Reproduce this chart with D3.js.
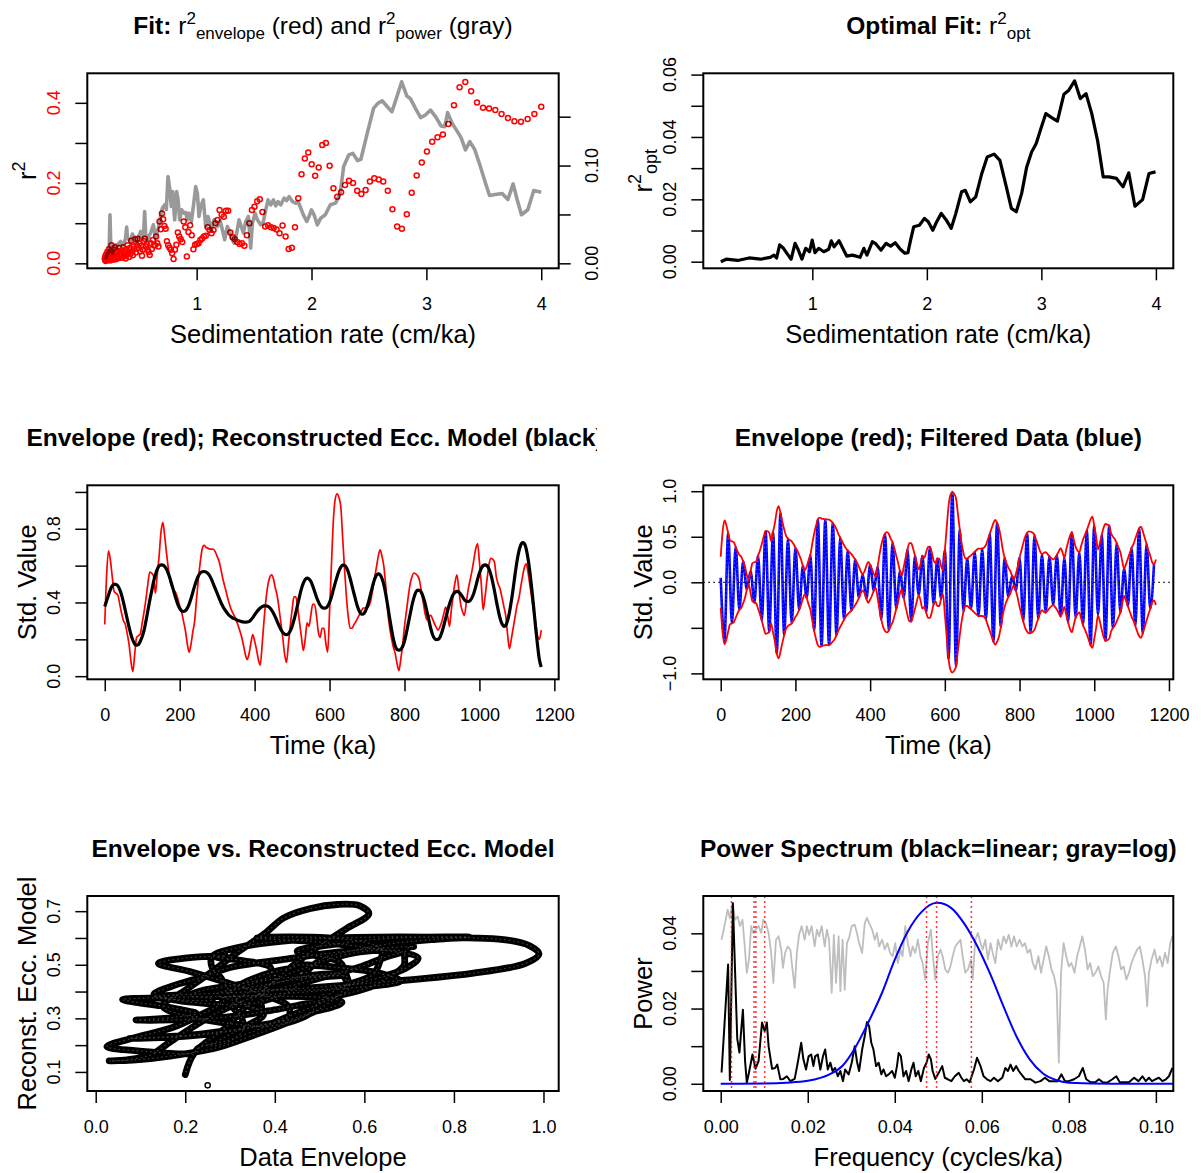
<!DOCTYPE html>
<html>
<head>
<meta charset="utf-8">
<script src="https://cdn.jsdelivr.net/npm/d3@7"></script>
<style>
  body { margin: 0; background: #fff; }
  text { font-family: "Liberation Sans", Arial, Helvetica, sans-serif; white-space: pre; }
</style>
</head>
<body>
<svg id="lienzo" width="1201" height="1173"></svg>
<script>
// ---------- datos ----------
// malla de tasas de sedimentacion (log, 0.2 - 4 cm/ka, 200 valores)
const sedMin = 0.2, sedMax = 4, numSed = 200;
const sedRates = d3.range(numSed).map(i => sedMin * Math.pow(sedMax / sedMin, i / (numSed - 1)));

// r2 envelope (puntos rojos), uno por tasa
const r2Env = [
  0.012,0.008,0.018,0.006,0.022,0.01,0.015,0.028,0.009,0.02,0.013,0.035,0.011,0.024,0.007,0.03,0.016,0.045,0.012,0.026,
  0.009,0.02,0.033,0.014,0.04,0.018,0.01,0.028,0.022,0.012,0.03,0.015,0.038,0.02,0.025,0.014,
  0.02,0.032,0.015,0.04,0.025,0.018,0.03,0.012,0.035,0.022,0.045,0.028,0.016,0.038,0.024,0.056,0.03,0.02,0.042,0.035,0.06,0.027,0.045,
  0.061,0.038,0.05,0.03,0.044,0.019,0.034,0.055,0.061,0.042,0.048,0.034,0.028,0.021,0.05,0.036,0.058,0.045,
  0.045,0.067,0.05,0.042,0.104,0.085,0.124,0.11,0.093,0.086,0.055,0.045,0.039,0.034,0.025,0.011,0.034,0.046,0.077,0.067,
  0.06,0.053,0.104,0.09,0.017,0.078,0.095,0.07,0.035,0.046,0.048,0.05,0.058,0.062,0.067,0.069,0.09,0.083,0.075,0.083,
  0.1,0.108,0.133,
  0.121,0.116,0.131,0.131,0.077,0.065,0.06,0.053,0.048,0.05,0.044,0.07,0.1,0.133,0.141,0.155,0.16,0.128,0.092,0.095,
  0.09,0.088,0.084,0.075,0.094,0.067,0.036,0.039,0.09,0.162,0.222,0.261,0.276,0.247,0.218,0.239,0.295,0.30,0.243,0.187,
  0.166,0.177,0.195,0.206,0.2,0.181,0.173,0.183,0.204,0.212,0.209,0.204,0.181,0.135,0.092,0.086,0.122,0.176,0.219,0.251,
  0.279,0.303,0.314,0.321,0.347,0.394,0.439,0.452,0.429,0.401,0.388,0.386,0.382,0.372,0.362,0.354,0.353,0.36,0.372,0.39
];

// r2 power (linea gris, eje derecho)
const powSed = [
  0.205,0.222,0.238,0.2454,0.252,0.2657,0.28,0.2948,0.31,0.3237,0.3383,0.352,0.3673,0.38,0.3905,0.398,0.4108,0.4254,0.44,0.4544,
  0.47,0.4834,0.498,0.5125,0.527,0.538,0.5473,0.556,0.5706,0.585,0.5996,0.6228,0.6431,0.6635,0.6809,0.7012,0.7216,0.7361,0.7506,0.7651,
  0.7796,0.7913,0.8087,0.8261,0.8377,0.8522,0.8696,0.89,0.905,0.919,0.9335,0.9538,0.9713,0.9916,1.0061,1.0207,1.0352,1.0584,1.0788,1.0991,
  1.1281,1.1513,1.1804,1.2036,1.2239,1.2442,1.2674,1.2907,1.311,1.3255,1.3487,1.369,1.3836,1.4068,1.4271,1.4503,1.4706,1.4852,1.5084,1.5287,
  1.5577,1.578,1.6013,1.6216,1.6448,1.6681,1.6884,1.7087,1.7319,1.761,1.7842,1.8045,1.8336,1.8626,1.8829,1.9003,1.9294,1.9584,1.9787,1.999,
  2.0223,2.0513,2.0803,2.12,2.164,2.21,2.25,2.28,2.324,2.36,2.4,2.43,2.485,2.54,2.577,2.615,2.66,2.7,2.745,2.785,
  2.83,2.86,2.905,2.95,2.992,3.036,3.08,3.128,3.16,3.185,3.225,3.27,3.302,3.34,3.378,3.42,3.47,3.515,3.55,3.6,
  3.66,3.71,3.755,3.79,3.828,3.883,3.935,4.0
];
const powVal = [
  0.004,0.0098,0.012,0.0496,0.02,0.0105,0.015,0.019,0.016,0.0207,0.0224,0.018,0.021,0.025,0.0371,0.026,0.0241,0.0224,0.03,0.0275,
  0.024,0.0224,0.028,0.0326,0.0258,0.03,0.053,0.03,0.0241,0.028,0.031,0.0394,0.0258,0.0343,0.0445,0.0564,0.0598,0.055,0.0887,0.0768,
  0.0581,0.0734,0.0445,0.0734,0.0656,0.0445,0.0547,0.0513,0.052,0.0445,0.0513,0.0428,0.0581,0.0785,0.0717,0.0479,0.0581,0.0649,0.0377,0.0479,
  0.0343,0.0445,0.0377,0.0438,0.0343,0.0241,0.0377,0.031,0.0241,0.0207,0.031,0.0445,0.0394,0.031,0.0428,0.0479,0.0156,0.0411,0.0513,0.0445,
  0.0394,0.0411,0.0547,0.0649,0.0598,0.0649,0.0587,0.0632,0.0598,0.0666,0.0642,0.0683,0.0632,0.0615,0.0632,0.0581,0.0496,0.0428,0.0479,0.0547,
  0.0496,0.0394,0.0462,0.0497,0.0599,0.0616,0.0718,0.099,0.1109,0.1125,0.1051,0.1065,0.133,0.1585,0.1636,0.1663,0.1602,0.1551,0.1711,0.1857,
  0.1711,0.1687,0.1585,0.149,0.1517,0.1568,0.15,0.1405,0.1398,0.1541,0.1432,0.1347,0.1286,0.116,0.1245,0.1167,0.099,0.082,0.0694,0.0704,
  0.0714,0.0653,0.0813,0.0653,0.0497,0.0548,0.0745,0.0728
];

// r2 optimo
const optSed = [
  0.201,0.248,0.348,0.448,0.548,0.632,0.665,0.688,0.715,0.748,0.789,0.815,0.849,0.875,0.909,0.942,0.976,0.999,1.023,1.056,
  1.1,1.143,1.166,1.19,1.233,1.266,1.3,1.35,1.417,1.45,1.477,1.524,1.55,1.6,1.644,1.684,1.724,1.768,1.808,1.835,
  1.858,1.885,1.935,1.979,2.012,2.052,2.086,2.126,2.169,2.213,2.253,2.303,2.336,2.38,2.427,2.48,2.527,2.587,2.638,2.694,
  2.738,2.781,2.828,2.872,2.915,2.955,2.996,3.039,3.09,3.14,3.197,3.24,3.29,3.34,3.39,3.44,3.49,3.54,3.59,3.656,
  3.713,3.763,3.817,3.884,3.94,3.997
];
const optVal = [
  0,0.0008,0.0004,0.0012,0.0008,0.0014,0.0021,0.0012,0.0054,0.0043,0.0021,0.0008,0.0059,0.004,0.0008,0.0043,0.0032,0.0069,0.0029,0.0043,
  0.0032,0.004,0.0067,0.0048,0.0067,0.0043,0.0018,0.0021,0.0014,0.0043,0.0021,0.0064,0.0059,0.0037,0.0059,0.005,0.0061,0.004,0.0027,0.0029,
  0.0069,0.0112,0.0117,0.0139,0.0128,0.0101,0.0128,0.0155,0.0134,0.0107,0.0155,0.0224,0.0229,0.0192,0.0208,0.0283,0.0336,0.0345,0.0325,0.024,
  0.0171,0.016,0.0219,0.0304,0.0352,0.0379,0.0427,0.0475,0.0462,0.0451,0.0537,0.055,0.058,0.0523,0.0539,0.0475,0.039,0.0272,0.0272,0.0267,
  0.024,0.0285,0.0178,0.0199,0.0283,0.0288
];

// tiempo (ka), cada 5 ka
const timeKa = d3.range(0, 1166, 5);
// envolvente de los datos (rojo)
const envelope = [
  0.28,0.55,0.68,0.63,0.54,0.46,0.45,0.44,0.39,0.34,0.30,0.28,0.23,0.17,0.08,0.025,0.12,0.21,0.22,0.23,
  0.29,0.35,0.42,0.50,0.565,0.56,0.545,0.45,0.55,0.65,0.78,0.835,0.76,0.665,0.58,0.51,0.48,0.465,0.45,0.42,
  0.38,0.35,0.30,0.25,0.18,0.13,0.17,0.24,0.30,0.42,0.53,0.62,0.69,0.71,0.70,0.695,0.69,0.69,0.689,0.675,
  0.65,0.625,0.58,0.53,0.49,0.45,0.41,0.375,0.35,0.33,0.31,0.28,0.25,0.215,0.17,0.12,0.09,0.12,0.18,0.225,
  0.19,0.145,0.09,0.06,0.17,0.30,0.41,0.49,0.535,0.55,0.53,0.48,0.44,0.37,0.29,0.21,0.12,0.075,0.17,0.27,
  0.36,0.43,0.43,0.37,0.29,0.21,0.14,0.20,0.29,0.27,0.33,0.39,0.39,0.33,0.24,0.21,0.26,0.26,0.18,0.13,
  0.35,0.60,0.84,0.96,0.99,0.97,0.92,0.75,0.58,0.43,0.32,0.26,0.26,0.28,0.295,0.315,0.335,0.355,0.37,0.37,
  0.37,0.38,0.41,0.47,0.53,0.59,0.65,0.685,0.65,0.595,0.49,0.36,0.27,0.21,0.16,0.125,0.07,0.03,0.09,0.17,
  0.27,0.35,0.43,0.50,0.54,0.56,0.555,0.545,0.52,0.46,0.40,0.34,0.305,0.325,0.33,0.31,0.285,0.265,0.25,0.27,
  0.30,0.34,0.375,0.33,0.27,0.36,0.44,0.51,0.55,0.47,0.39,0.35,0.33,0.40,0.47,0.52,0.57,0.63,0.69,0.72,
  0.62,0.50,0.36,0.43,0.52,0.60,0.64,0.635,0.62,0.54,0.50,0.475,0.43,0.38,0.33,0.23,0.15,0.20,0.26,0.32,
  0.38,0.42,0.48,0.54,0.59,0.61,0.56,0.49,0.42,0.35,0.29,0.22,0.20,0.25
];
// modelo de excentricidad reconstruido (negro)
const eccModel = [
  0.378,0.41,0.44,0.47,0.49,0.50,0.498,0.49,0.47,0.44,0.40,0.355,0.31,0.265,0.225,0.195,0.175,0.168,0.172,0.19,
  0.215,0.25,0.30,0.355,0.41,0.46,0.51,0.55,0.58,0.598,0.604,0.603,0.595,0.58,0.555,0.525,0.49,0.455,0.42,0.39,
  0.368,0.355,0.351,0.355,0.368,0.39,0.42,0.455,0.49,0.52,0.545,0.56,0.567,0.568,0.566,0.558,0.545,0.525,0.50,0.475,
  0.45,0.425,0.40,0.38,0.362,0.348,0.335,0.325,0.318,0.312,0.308,0.303,0.299,0.296,0.294,0.293,0.294,0.296,0.305,0.318,
  0.333,0.347,0.36,0.37,0.378,0.382,0.382,0.38,0.372,0.36,0.343,0.322,0.298,0.275,0.253,0.237,0.228,0.225,0.23,0.245,
  0.27,0.305,0.345,0.39,0.435,0.475,0.505,0.525,0.532,0.528,0.515,0.49,0.46,0.43,0.405,0.385,0.373,0.369,0.37,0.38,
  0.40,0.43,0.468,0.505,0.54,0.57,0.592,0.603,0.602,0.59,0.565,0.53,0.49,0.45,0.41,0.375,0.35,0.336,0.338,0.35,
  0.375,0.41,0.45,0.49,0.525,0.548,0.555,0.55,0.53,0.495,0.445,0.385,0.32,0.26,0.205,0.165,0.145,0.141,0.145,0.16,
  0.19,0.235,0.285,0.335,0.385,0.425,0.455,0.467,0.466,0.455,0.43,0.395,0.35,0.305,0.26,0.225,0.205,0.198,0.20,0.213,
  0.24,0.275,0.315,0.355,0.39,0.42,0.443,0.456,0.46,0.456,0.445,0.43,0.415,0.407,0.405,0.41,0.425,0.45,0.485,0.525,
  0.56,0.585,0.60,0.604,0.60,0.585,0.555,0.515,0.465,0.41,0.36,0.315,0.285,0.27,0.275,0.30,0.345,0.405,0.475,0.55,
  0.62,0.675,0.71,0.725,0.72,0.69,0.635,0.56,0.47,0.37,0.265,0.17,0.09,0.05
];
// datos filtrados (azul): extremos cada 10 ka
const filtTime = d3.range(0, 1161, 10);
const filtered = [
  0.05,-0.64,0.54,-0.45,0.39,-0.30,0.23,-0.08,0.12,-0.22,
  0.29,-0.42,0.56,-0.54,0.55,-0.78,0.76,-0.58,0.48,-0.45,
  0.38,-0.30,0.18,-0.17,0.30,-0.53,0.69,-0.70,0.69,-0.69,
  0.65,-0.58,0.49,-0.41,0.35,-0.31,0.25,-0.17,0.09,-0.18,
  0.19,-0.09,0.17,-0.41,0.535,-0.53,0.44,-0.29,0.12,-0.17,
  0.36,-0.43,0.29,-0.14,0.29,-0.33,0.39,-0.24,0.26,-0.18,
  0.35,-0.84,0.99,-0.92,0.58,-0.32,0.26,-0.295,0.335,-0.37,
  0.37,-0.41,0.53,-0.65,0.65,-0.49,0.27,-0.16,0.07,-0.09,
  0.27,-0.43,0.54,-0.555,0.52,-0.40,0.305,-0.33,0.285,-0.25,
  0.30,-0.375,0.27,-0.44,0.55,-0.39,0.33,-0.47,0.57,-0.69,
  0.62,-0.36,0.52,-0.64,0.62,-0.50,0.43,-0.33,0.15,-0.26,
  0.38,-0.48,0.59,-0.56,0.42,-0.29,0.20
];

// espectro de potencia: [frecuencia, potencia]
const linPower = [
  [0.0002,0.003],[0.0017,0.0317],[0.0021,0.001],[0.0028,0.048],[0.0033,0.03],[0.0038,0.012],[0.0043,0.0083],[0.0051,0.0197],
  [0.0056,0.006],[0.006,0.0003],[0.0065,0.003],[0.0073,0.0078],[0.008,0.004],[0.0087,0.006],[0.0095,0.0163],[0.0101,0.014],
  [0.0106,0.0163],[0.011,0.01],[0.0118,0.004],[0.0125,0.0042],[0.013,0.0051],[0.0137,0.0012],[0.0144,0.0013],[0.0152,0.002],
  [0.016,0.0007],[0.017,0.0013],[0.0177,0.0056],[0.0185,0.0109],[0.019,0.0065],[0.0196,0.0038],[0.0202,0.0073],[0.0208,0.0078],
  [0.0213,0.0047],[0.0217,0.0073],[0.0223,0.0078],[0.0229,0.0038],[0.0235,0.0073],[0.024,0.0091],[0.0246,0.0038],[0.0252,0.0056],
  [0.0257,0.0034],[0.0263,0.0042],[0.0269,0.002],[0.0275,0.0034],[0.0281,0.0007],[0.0286,0.0038],[0.0294,0.0025],[0.0301,0.0056],
  [0.0308,0.01],[0.0313,0.006],[0.0318,0.0034],[0.0325,0.0091],[0.0331,0.0127],[0.0336,0.0164],[0.0341,0.0153],[0.0346,0.0109],
  [0.0351,0.0091],[0.0357,0.0047],[0.0363,0.0056],[0.0369,0.0025],[0.0374,0.0038],[0.038,0.002],[0.0386,0.0025],[0.0394,0.0034],
  [0.04,0.0016],[0.0405,0.0047],[0.0409,0.0082],[0.0414,0.0073],[0.042,0.002],[0.0426,0.0034],[0.0432,0.0007],[0.0438,0.0038],
  [0.0443,0.0056],[0.0448,0.002],[0.0454,0.0034],[0.046,0.0007],[0.0467,0.0042],[0.0473,0.0056],[0.0478,0.0078],[0.0483,0.0065],
  [0.0487,0.0034],[0.0493,0.0013],[0.0501,0.0029],[0.0509,0.0047],[0.0515,0.0016],[0.0522,0.0012],[0.053,0.0007],[0.0538,0.002],
  [0.0547,0.0029],[0.0553,0.0016],[0.0559,0.0007],[0.0565,0.0012],[0.0572,0.0004],[0.0582,0.0038],[0.0589,0.0069],[0.0597,0.0047],
  [0.0604,0.002],[0.0612,0.0012],[0.062,0.0007],[0.0628,0.0016],[0.0637,0.0007],[0.0647,0.0016],[0.0654,0.0042],[0.066,0.0034],
  [0.0666,0.0051],[0.0672,0.0034],[0.0679,0.0047],[0.0685,0.0034],[0.0691,0.0025],[0.07,0.0012],[0.0712,0.0012],[0.0723,0.0003],
  [0.0735,0.0007],[0.0745,0.0016],[0.0755,0.0007],[0.0764,0.0007],[0.0774,0.0007],[0.0783,0.0025],[0.0791,0.0007],[0.08,0.0007],
  [0.0812,0.0012],[0.0823,0.002],[0.0832,0.0042],[0.084,0.0012],[0.085,0.0004],[0.0861,0.0004],[0.0869,0.0012],[0.0878,0.0004],
  [0.0888,0.0003],[0.09,0.0012],[0.0909,0.002],[0.0917,0.0004],[0.0927,0.0004],[0.0938,0.0004],[0.095,0.0016],[0.096,0.0007],
  [0.0969,0.002],[0.0977,0.0007],[0.0984,0.0016],[0.0991,0.0007],[0.0999,0.0012],[0.1007,0.0016],[0.1015,0.0007],[0.1023,0.0012],
  [0.103,0.002],[0.1038,0.0042]
];
const logPower = [
  [0.0002,0.0383],[0.001,0.0427],[0.0016,0.0463],[0.0021,0.044],[0.0027,0.0481],[0.0033,0.0436],[0.0039,0.0445],[0.0044,0.0419],
  [0.005,0.0436],[0.0054,0.0383],[0.006,0.0295],[0.0065,0.033],[0.007,0.0419],[0.0075,0.0401],[0.008,0.041],[0.0087,0.0419],
  [0.0093,0.0401],[0.0098,0.0436],[0.0104,0.0427],[0.011,0.0401],[0.0116,0.0348],[0.0121,0.0268],[0.0127,0.0383],[0.0133,0.0392],
  [0.0139,0.0357],[0.0143,0.0308],[0.0148,0.0348],[0.0154,0.0365],[0.016,0.0357],[0.0165,0.0304],[0.017,0.0255],[0.0175,0.0348],
  [0.018,0.0396],[0.0186,0.0419],[0.0193,0.0383],[0.0198,0.0419],[0.0203,0.0396],[0.0209,0.0419],[0.0216,0.0365],[0.0221,0.041],
  [0.0226,0.0392],[0.0232,0.0419],[0.0239,0.0365],[0.0244,0.041],[0.0249,0.0383],[0.0255,0.0242],[0.026,0.0396],[0.0265,0.0268],
  [0.0271,0.0392],[0.0275,0.0246],[0.028,0.0383],[0.0285,0.025],[0.029,0.0374],[0.0295,0.0388],[0.0301,0.0419],[0.0308,0.0423],
  [0.0314,0.0396],[0.0318,0.0374],[0.0325,0.0348],[0.0331,0.0427],[0.0336,0.0441],[0.0341,0.0427],[0.0348,0.041],[0.0354,0.0383],
  [0.0359,0.0401],[0.0364,0.0365],[0.0371,0.0383],[0.0377,0.0357],[0.0383,0.0374],[0.0389,0.0348],[0.0395,0.0339],[0.0401,0.0374],
  [0.0407,0.0321],[0.0413,0.0357],[0.0418,0.0339],[0.0424,0.0419],[0.043,0.0374],[0.0436,0.0339],[0.0441,0.0365],[0.0447,0.0348],
  [0.0453,0.0383],[0.0459,0.0339],[0.0464,0.0321],[0.047,0.0277],[0.0476,0.0374],[0.0483,0.041],[0.0487,0.0348],[0.0493,0.0277],
  [0.0499,0.0339],[0.0505,0.0357],[0.051,0.0339],[0.0516,0.0304],[0.0522,0.0295],[0.0528,0.0312],[0.0533,0.0339],[0.0539,0.0365],
  [0.0545,0.0374],[0.0551,0.0383],[0.0556,0.0339],[0.0562,0.0295],[0.0568,0.0304],[0.0575,0.033],[0.0579,0.0277],[0.0585,0.0383],
  [0.0591,0.0401],[0.0597,0.0374],[0.0602,0.0357],[0.0608,0.0383],[0.0614,0.033],[0.062,0.0374],[0.0625,0.0348],[0.0631,0.0321],
  [0.0637,0.0383],[0.0644,0.0357],[0.065,0.0392],[0.0656,0.0374],[0.0662,0.0396],[0.0668,0.0365],[0.0674,0.0392],[0.068,0.0365],
  [0.0687,0.0383],[0.0693,0.0365],[0.0699,0.0374],[0.0705,0.0348],[0.0711,0.0357],[0.0717,0.0321],[0.0723,0.0304],[0.073,0.0339],
  [0.0736,0.0295],[0.0742,0.033],[0.0748,0.0365],[0.0754,0.0339],[0.076,0.0304],[0.0766,0.0286],[0.0772,0.025],[0.0777,0.0056],
  [0.0782,0.0295],[0.0788,0.0374],[0.0794,0.0339],[0.08,0.0312],[0.0806,0.0321],[0.0813,0.0295],[0.0819,0.0339],[0.0825,0.0365],
  [0.0831,0.0392],[0.0837,0.0357],[0.0843,0.0304],[0.0849,0.0321],[0.0855,0.0286],[0.0861,0.0295],[0.0868,0.0312],[0.0874,0.0286],
  [0.088,0.0268],[0.0885,0.0171],[0.0889,0.025],[0.0895,0.0304],[0.0901,0.0348],[0.0908,0.0365],[0.0914,0.0339],[0.092,0.0304],
  [0.0926,0.0312],[0.0932,0.0277],[0.0938,0.0295],[0.0944,0.0321],[0.095,0.0339],[0.0957,0.0357],[0.0963,0.0365],[0.0969,0.033],
  [0.0975,0.0286],[0.098,0.0206],[0.0984,0.0295],[0.099,0.033],[0.0997,0.0357],[0.1003,0.0321],[0.1009,0.0339],[0.1015,0.0312],
  [0.1021,0.0348],[0.1027,0.0321],[0.1033,0.0374],[0.1038,0.0392]
];
// respuesta del filtro (azul)
const taper = [
  [0,0],[0.01,0.0001],[0.015,0.0003],[0.02,0.0008],[0.025,0.0025],[0.028,0.0048],[0.031,0.0098],[0.034,0.0165],[0.037,0.024],
  [0.04,0.033],[0.043,0.0405],[0.046,0.0455],[0.0497,0.0481],[0.053,0.0467],[0.056,0.0425],[0.059,0.0365],[0.062,0.029],
  [0.065,0.0205],[0.068,0.0125],[0.071,0.0065],[0.074,0.0028],[0.077,0.001],[0.08,0.0003],[0.09,0],[0.105,0]
];
// frecuencias objetivo (lineas rojas punteadas)
const targetFreqs = [0.00247, 0.00765, 0.00808, 0.01011, 0.0473, 0.0496, 0.0576];

// ---------- dibujo ----------
const svg = d3.select('#lienzo');

// limites al estilo de R: +4% a cada lado
function rango(lim) {
  const d = (lim[1] - lim[0]) * 0.04;
  return [lim[0] - d, lim[1] + d];
}

let nClip = 0;
function panel(p) {
  const g = svg.append('g');
  const x = d3.scaleLinear().domain(rango(p.xlim)).range([p.l, p.r]);
  const y = d3.scaleLinear().domain(rango(p.ylim)).range([p.b, p.t]);
  const id = 'clip' + (nClip++);
  svg.append('clipPath').attr('id', id).append('rect')
      .attr('x', p.l).attr('y', p.t).attr('width', p.r - p.l).attr('height', p.b - p.t);
  const area = g.append('g').attr('clip-path', `url(#${id})`);

  const ax = g.append('g').attr('transform', `translate(0,${p.b})`)
      .call(d3.axisBottom(x).tickValues(p.xticks).tickSize(12).tickPadding(17).tickFormat(p.xfmt));
  ax.select('.domain').remove();
  ax.attr('color', '#000');
  ax.selectAll('line').attr('stroke-width', 1.5);
  ax.selectAll('text').attr('font-size', 18);

  const ay = g.append('g').attr('transform', `translate(${p.l},0)`)
      .call(d3.axisLeft(y).tickValues(p.yticks).tickSize(12).tickFormat(''));
  ay.select('.domain').remove();
  ay.attr('color', '#000');
  ay.selectAll('line').attr('stroke-width', 1.5);

  // etiquetas del eje y giradas (como R)
  g.selectAll(null).data(p.ylabels).join('text')
      .attr('transform', d => `translate(${p.l - 27},${y(d)}) rotate(-90)`)
      .attr('text-anchor', 'middle')
      .attr('font-size', 18)
      .attr('fill', p.ycol || '#000')
      .text(p.yfmt);

  if (p.xlab) {
    g.append('text').attr('x', (p.l + p.r) / 2).attr('y', p.b + 75)
        .attr('text-anchor', 'middle').attr('font-size', 25.5).text(p.xlab);
  }
  const cx = (p.l + p.r) / 2, cy = (p.t + p.b) / 2;
  return { g, x, y, area, cx, cy, p };
}

function caja(P) {
  P.g.append('rect').attr('x', P.p.l).attr('y', P.p.t)
      .attr('width', P.p.r - P.p.l).attr('height', P.p.b - P.p.t)
      .attr('fill', 'none').attr('stroke', '#000').attr('stroke-width', 2);
}

function titulo(P, texto, dx) {
  return svg.append('text').attr('x', P.cx + (dx || 0)).attr('y', P.p.t - 39)
      .attr('text-anchor', 'middle').attr('font-size', 24.5).attr('font-weight', 'bold').text(texto);
}

function etiquetaY(P, texto) {
  return P.g.append('text')
      .attr('transform', `translate(${P.p.l - 51},${P.cy}) rotate(-90)`)
      .attr('text-anchor', 'middle').attr('font-size', 25.5).text(texto);
}

const L = [87.3, 558.7], R = [703.3, 1173.3];
const F1 = [73.3, 268.3], F2 = [485.3, 679.3], F3 = [896, 1091];

// ---- 1: Fit ----
const p1 = panel({ l: L[0], r: L[1], t: F1[0], b: F1[1], xlim: [0.2, 4], ylim: [0.0056, 0.4556],
  xticks: [1, 2, 3, 4], xfmt: d3.format('d'), yticks: [0, 0.1, 0.2, 0.3, 0.4], ylabels: [0, 0.2, 0.4],
  yfmt: d3.format('.1f'), ycol: '#ff0000', xlab: 'Sedimentation rate (cm/ka)' });
const y1b = d3.scaleLinear().domain(rango([0.0023, 0.187])).range([F1[1], F1[0]]);

p1.area.selectAll('circle').data(r2Env).join('circle')
    .attr('cx', (d, i) => p1.x(sedRates[i]))
    .attr('cy', d => p1.y(d))
    .attr('r', 2.5)
    .attr('fill', 'none').attr('stroke', '#ff0000').attr('stroke-width', 1.5);

p1.area.append('path').datum(d3.zip(powSed, powVal))
    .attr('d', d3.line().x(d => p1.x(d[0])).y(d => y1b(d[1])))
    .attr('fill', 'none').attr('stroke', '#000').attr('stroke-opacity', 0.4)
    .attr('stroke-width', 3.6).attr('stroke-linejoin', 'round');

const ay1b = p1.g.append('g').attr('transform', `translate(${L[1]},0)`)
    .call(d3.axisRight(y1b).tickValues([0, 0.05, 0.1, 0.15]).tickSize(12).tickFormat(''));
ay1b.select('.domain').remove();
ay1b.attr('color', '#000').selectAll('line').attr('stroke-width', 1.5);
p1.g.selectAll(null).data([0, 0.1]).join('text')
    .attr('transform', d => `translate(${L[1] + 39},${y1b(d)}) rotate(-90)`)
    .attr('text-anchor', 'middle').attr('font-size', 18).text(d3.format('.2f'));
caja(p1);

// titulo con super/subindices uno tras otro
const t1 = svg.append('text').attr('x', p1.cx).attr('y', F1[0] - 39)
    .attr('text-anchor', 'middle').attr('font-size', 24.5);
t1.append('tspan').attr('font-weight', 'bold').text('Fit: ');
t1.append('tspan').text('r');
t1.append('tspan').attr('font-size', 17).attr('dy', -10).text('2');
t1.append('tspan').attr('font-size', 17).attr('dy', 14.5).text('envelope');
t1.append('tspan').attr('dy', -4.5).text(' (red) and r');
t1.append('tspan').attr('font-size', 17).attr('dy', -10).text('2');
t1.append('tspan').attr('font-size', 17).attr('dy', 14.5).text('power');
t1.append('tspan').attr('dy', -4.5).text(' (gray)');

const yl1 = etiquetaY(p1, null);
yl1.append('tspan').text('r');
yl1.append('tspan').attr('font-size', 18).attr('dy', -11).text('2');

// ---- 2: Optimal fit ----
const p2 = panel({ l: R[0], r: R[1], t: F1[0], b: F1[1], xlim: [0.2, 4], ylim: [0.0002, 0.0581],
  xticks: [1, 2, 3, 4], xfmt: d3.format('d'), yticks: [0, 0.01, 0.02, 0.03, 0.04, 0.05, 0.06],
  ylabels: [0, 0.02, 0.04, 0.06], yfmt: d3.format('.2f'), xlab: 'Sedimentation rate (cm/ka)' });
p2.area.append('path').datum(d3.zip(optSed, optVal))
    .attr('d', d3.line().x(d => p2.x(d[0])).y(d => p2.y(d[1])))
    .attr('fill', 'none').attr('stroke', '#000').attr('stroke-width', 3.2).attr('stroke-linejoin', 'round');
caja(p2);
const t2 = svg.append('text').attr('x', p2.cx).attr('y', F1[0] - 39)
    .attr('text-anchor', 'middle').attr('font-size', 24.5);
t2.append('tspan').attr('font-weight', 'bold').text('Optimal Fit: ');
t2.append('tspan').text('r');
t2.append('tspan').attr('font-size', 17).attr('dy', -10).text('2');
t2.append('tspan').attr('font-size', 17).attr('dy', 14.5).text('opt');
const yl2 = etiquetaY(p2, null);
yl2.append('tspan').text('r');
yl2.append('tspan').attr('font-size', 18).attr('dy', -11).text('2');
yl2.append('tspan').attr('font-size', 18).attr('dy', 16).text('opt');

// ---- 3: envolvente y modelo ----
const p3 = panel({ l: L[0], r: L[1], t: F2[0], b: F2[1], xlim: [0, 1165], ylim: [0.022, 0.997],
  xticks: [0, 200, 400, 600, 800, 1000, 1200], xfmt: d3.format('d'), yticks: [0, 0.2, 0.4, 0.6, 0.8, 1.0],
  ylabels: [0, 0.4, 0.8], yfmt: d3.format('.1f'), xlab: 'Time (ka)' });
p3.area.append('path').datum(d3.zip(timeKa, envelope))
    .attr('d', d3.line().curve(d3.curveMonotoneX).x(d => p3.x(d[0])).y(d => p3.y(d[1])))
    .attr('fill', 'none').attr('stroke', '#ff0000').attr('stroke-width', 1.7);
p3.area.append('path').datum(d3.zip(timeKa, eccModel))
    .attr('d', d3.line().curve(d3.curveMonotoneX).x(d => p3.x(d[0])).y(d => p3.y(d[1])))
    .attr('fill', 'none').attr('stroke', '#000').attr('stroke-width', 3.2);
caja(p3);
// el titulo se corta en el borde de la figura, como en el original
svg.append('clipPath').attr('id', 'clipTit3').append('rect')
    .attr('x', 0).attr('y', 400).attr('width', 597).attr('height', 80);
titulo(p3, 'Envelope (red); Reconstructed Ecc. Model (black)', -8).attr('clip-path', 'url(#clipTit3)');
etiquetaY(p3, 'Std. Value');

// ---- 4: envolvente y datos filtrados ----
const p4 = panel({ l: R[0], r: R[1], t: F2[0], b: F2[1], xlim: [0, 1165], ylim: [-0.986, 0.986],
  xticks: [0, 200, 400, 600, 800, 1000, 1200], xfmt: d3.format('d'), yticks: [-1, -0.5, 0, 0.5, 1],
  ylabels: [-1, 0, 0.5, 1], yfmt: d3.format('.1f'), xlab: 'Time (ka)' });
p4.area.append('path').datum(d3.zip(filtTime, filtered))
    .attr('d', d3.line().curve(d3.curveMonotoneX).x(d => p4.x(d[0])).y(d => p4.y(d[1])))
    .attr('fill', 'none').attr('stroke', '#0000ff').attr('stroke-width', 2.6);
p4.area.append('path').datum(d3.zip(filtTime, filtered))
    .attr('d', d3.line().curve(d3.curveMonotoneX).x(d => p4.x(d[0])).y(d => p4.y(d[1])))
    .attr('fill', 'none').attr('stroke', '#fff').attr('stroke-width', 0.8).attr('stroke-opacity', 0.45)
    .attr('stroke-dasharray', '1,3');
const envLine = d3.line().curve(d3.curveMonotoneX);
p4.area.append('path').datum(d3.zip(timeKa, envelope))
    .attr('d', envLine.x(d => p4.x(d[0])).y(d => p4.y(d[1])))
    .attr('fill', 'none').attr('stroke', '#ff0000').attr('stroke-width', 1.8);
p4.area.append('path').datum(d3.zip(timeKa, envelope))
    .attr('d', envLine.x(d => p4.x(d[0])).y(d => p4.y(-d[1])))
    .attr('fill', 'none').attr('stroke', '#ff0000').attr('stroke-width', 1.8);
p4.area.append('line').attr('x1', R[0]).attr('x2', R[1]).attr('y1', p4.y(0)).attr('y2', p4.y(0))
    .attr('stroke', '#000').attr('stroke-width', 1.2).attr('stroke-dasharray', '1.5,3.5');
caja(p4);
titulo(p4, 'Envelope (red); Filtered Data (blue)');
etiquetaY(p4, 'Std. Value');

// ---- 5: envolvente vs modelo ----
const p5 = panel({ l: L[0], r: L[1], t: F3[0], b: F3[1], xlim: [0.0202, 0.995], ylim: [0.0558, 0.7297],
  xticks: [0, 0.2, 0.4, 0.6, 0.8, 1.0], xfmt: d3.format('.1f'), yticks: [0.1, 0.2, 0.3, 0.4, 0.5, 0.6, 0.7],
  ylabels: [0.1, 0.3, 0.5, 0.7], yfmt: d3.format('.1f'), xlab: 'Data Envelope' });
const pares = d3.zip(envelope, eccModel);
const traza = d3.line().curve(d3.curveCatmullRom).x(d => p5.x(d[0])).y(d => p5.y(d[1]));
p5.area.append('path').datum(pares.slice(0, -1)).attr('d', traza)
    .attr('fill', 'none').attr('stroke', '#000').attr('stroke-width', 6.8)
    .attr('stroke-linejoin', 'round').attr('stroke-linecap', 'round');
p5.area.append('path').datum(pares.slice(0, -1)).attr('d', traza)
    .attr('fill', 'none').attr('stroke', '#fff').attr('stroke-width', 1.1).attr('stroke-opacity', 0.28)
    .attr('stroke-dasharray', '1.5,3');
const ultimo = pares[pares.length - 1];
p5.area.append('circle').attr('cx', p5.x(ultimo[0])).attr('cy', p5.y(ultimo[1])).attr('r', 2.6)
    .attr('fill', 'none').attr('stroke', '#000').attr('stroke-width', 1.4);
caja(p5);
titulo(p5, 'Envelope vs. Reconstructed Ecc. Model');
etiquetaY(p5, 'Reconst. Ecc. Model');

// ---- 6: espectro ----
const p6 = panel({ l: R[0], r: R[1], t: F3[0], b: F3[1], xlim: [0, 0.1], ylim: [0, 0.048],
  xticks: [0, 0.02, 0.04, 0.06, 0.08, 0.10], xfmt: d3.format('.2f'), yticks: [0, 0.01, 0.02, 0.03, 0.04],
  ylabels: [0, 0.02, 0.04], yfmt: d3.format('.2f'), xlab: 'Frequency (cycles/ka)' });
const espLine = d3.line().x(d => p6.x(d[0])).y(d => p6.y(d[1]));
p6.area.append('path').datum(logPower).attr('d', espLine)
    .attr('fill', 'none').attr('stroke', '#bebebe').attr('stroke-width', 1.8).attr('stroke-linejoin', 'round');
p6.area.append('path').datum(linPower).attr('d', espLine)
    .attr('fill', 'none').attr('stroke', '#000').attr('stroke-width', 2).attr('stroke-linejoin', 'round');
p6.area.append('path').datum(taper)
    .attr('d', d3.line().curve(d3.curveMonotoneX).x(d => p6.x(d[0])).y(d => p6.y(d[1])))
    .attr('fill', 'none').attr('stroke', '#0000ff').attr('stroke-width', 2);
p6.area.selectAll('line.objetivo').data(targetFreqs).join('line')
    .attr('class', 'objetivo')
    .attr('x1', d => p6.x(d)).attr('x2', d => p6.x(d))
    .attr('y1', F3[0]).attr('y2', F3[1])
    .attr('stroke', '#ff0000').attr('stroke-width', 1.5).attr('stroke-opacity', 0.8)
    .attr('stroke-dasharray', '2,3');
caja(p6);
titulo(p6, 'Power Spectrum (black=linear; gray=log)');
etiquetaY(p6, 'Power');
</script>
</body>
</html>
